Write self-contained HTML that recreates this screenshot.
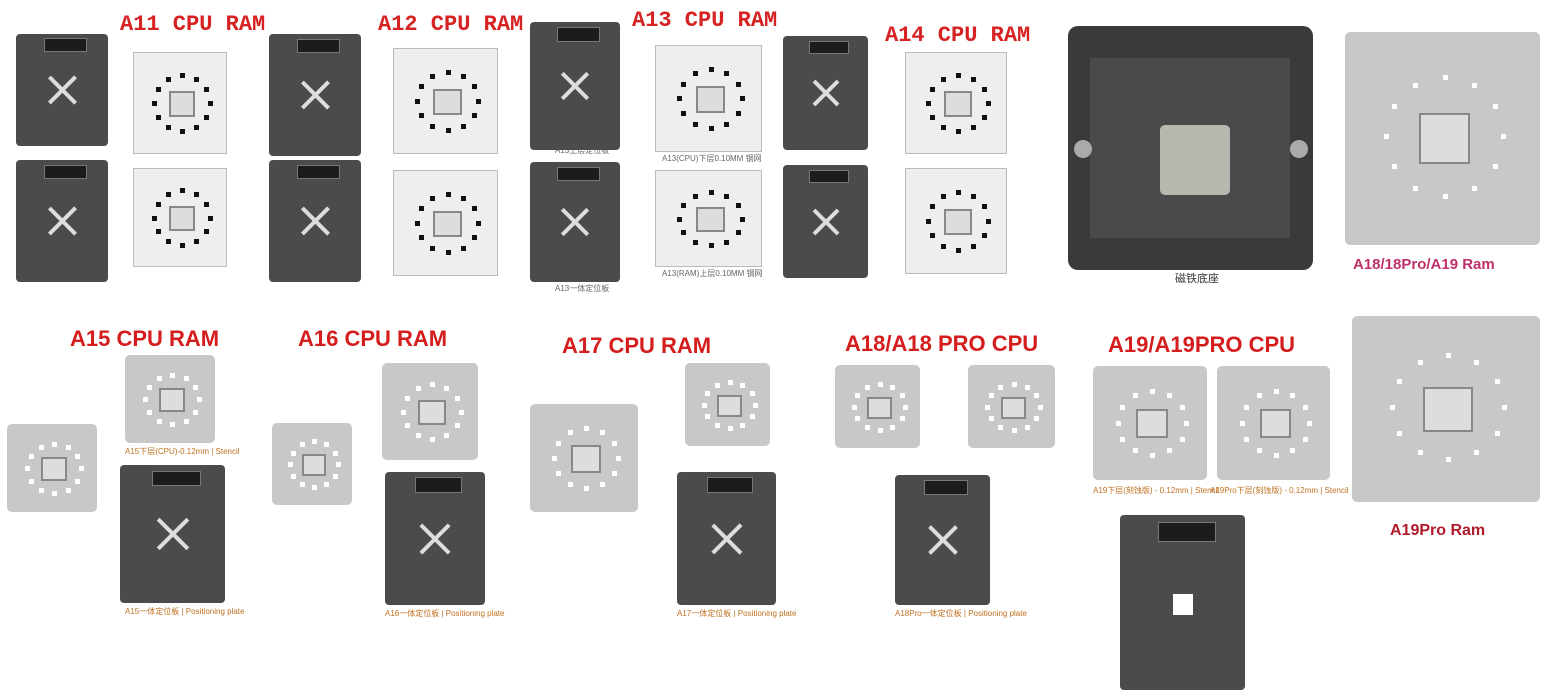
<!DOCTYPE html>
<html><head><meta charset="utf-8"><style>
body{margin:0;width:1564px;height:699px;background:#fff;position:relative;overflow:hidden;font-family:"Liberation Sans","Noto Sans CJK SC",sans-serif}
.a{position:absolute}
.p{position:absolute;background:#4b4b4b;border-radius:4px;overflow:hidden}
.p .x1,.p .x2{position:absolute;left:50%;top:50%;width:40%;height:4px;background:#ddd;margin-left:-20%;margin-top:-2px}
.p .x1{transform:rotate(45deg)}.p .x2{transform:rotate(-45deg)}
.p .lab{position:absolute;left:30%;top:4%;width:45%;height:10%;background:#1c1c1c;border:1px solid #777}
.s{position:absolute;background:#eeeeee;border:1px solid #bbb}
.s.g{background:#c8c8c8;border:none;border-radius:5px}
.s .c{position:absolute;left:38%;top:38%;width:24%;height:22%;border:2px solid #888;background:#ddd}
.t{position:absolute;color:#d51d1d;font-weight:bold;font-size:22px;white-space:nowrap}
.t.serif{font-family:"Liberation Mono",monospace;color:#d62222;font-size:22px}
.sm{position:absolute;font-size:8px;color:#666;white-space:nowrap}
</style></head><body>
<div class="t serif" style="left:120px;top:12px">A11 CPU RAM</div>
<div class="t serif" style="left:378px;top:12px">A12 CPU RAM</div>
<div class="t serif" style="left:632px;top:8px">A13 CPU RAM</div>
<div class="t serif" style="left:885px;top:23px">A14 CPU RAM</div>
<div class="t" style="left:70px;top:326px">A15 CPU RAM</div>
<div class="t" style="left:298px;top:326px">A16 CPU RAM</div>
<div class="t" style="left:562px;top:333px">A17 CPU RAM</div>
<div class="t" style="left:845px;top:331px">A18/A18 PRO CPU</div>
<div class="t" style="left:1108px;top:332px">A19/A19PRO CPU</div>
<div class="a" style="left:1068px;top:26px;width:245px;height:244px;background:#3a3a3a;border-radius:10px"></div>
<div class="a" style="left:1090px;top:58px;width:200px;height:180px;background:#4a4a4a"></div>
<div class="a" style="left:1160px;top:125px;width:70px;height:70px;background:#b8b8b0;border-radius:5px"></div>
<div class="a" style="left:1074px;top:140px;width:18px;height:18px;background:#aaa;border-radius:50%"></div>
<div class="a" style="left:1290px;top:140px;width:18px;height:18px;background:#aaa;border-radius:50%"></div>
<div class="a" style="left:1175px;top:270px;font-size:11px;color:#333">磁铁底座</div>
<div class="a" style="left:1353px;top:256px;font-size:15px;font-weight:bold;color:#c0306a">A18/18Pro/A19 Ram</div>
<div class="a" style="left:1390px;top:522px;font-size:16px;font-weight:bold;color:#b11a2a">A19Pro Ram</div>
<div class="sm" style="left:555px;top:145px">A13上层定位板</div>
<div class="sm" style="left:555px;top:283px">A13一体定位板</div>
<div class="sm" style="left:662px;top:153px">A13(CPU)下层0.10MM 钢网</div>
<div class="sm" style="left:662px;top:268px">A13(RAM)上层0.10MM 钢网</div>
<div class="sm" style="left:125px;top:446px;color:#c07020">A15下层(CPU)-0.12mm | Stencil</div>
<div class="sm" style="left:125px;top:606px;color:#c07020">A15一体定位板 | Positioning plate</div>
<div class="sm" style="left:385px;top:608px;color:#c07020">A16一体定位板 | Positioning plate</div>
<div class="sm" style="left:677px;top:608px;color:#c07020">A17一体定位板 | Positioning plate</div>
<div class="sm" style="left:895px;top:608px;color:#c07020">A18Pro一体定位板 | Positioning plate</div>
<div class="sm" style="left:1093px;top:485px;color:#c07020">A19下层(刻蚀版) - 0.12mm | Stencil</div>
<div class="sm" style="left:1210px;top:485px;color:#c07020">A19Pro下层(刻蚀版) - 0.12mm | Stencil</div>
<script>
function P(x,y,w,h,nox){var d=document.createElement('div');d.className='p';d.style.cssText=`left:${x}px;top:${y}px;width:${w}px;height:${h}px`;d.innerHTML='<div class="lab"></div>'+(nox?'<div style="position:absolute;left:42%;top:45%;width:16%;height:12%;background:#fff"></div>':'<div class="x1"></div><div class="x2"></div>');document.body.appendChild(d);}
function S(x,y,w,h,g){var d=document.createElement('div');d.className='s'+(g?' g':'');d.style.cssText=`left:${x}px;top:${y}px;width:${w}px;height:${h}px`;var c='<div class="c"></div>';for(var i=0;i<12;i++){var a=i/12*Math.PI*2;var px=50+30*Math.cos(a),py=48+28*Math.sin(a);c+=`<div style="position:absolute;left:${px}%;top:${py}%;width:5px;height:5px;background:${g?'#fff':'#111'}"></div>`;}d.innerHTML=c;document.body.appendChild(d);}
P(16,34,92,112);P(16,160,92,122);S(133,52,92,100);S(133,168,92,97);
P(269,34,92,122);P(269,160,92,122);S(393,48,103,104);S(393,170,103,104);
P(530,22,90,128);P(530,162,90,120);S(655,45,105,105);S(655,170,105,95);
P(783,36,85,114);P(783,165,85,113);S(905,52,100,100);S(905,168,100,104);
S(1345,32,195,213,1);S(1352,316,188,186,1);
S(7,424,90,88,1);S(125,355,90,88,1);P(120,465,105,138);
S(272,423,80,82,1);S(382,363,96,97,1);P(385,472,100,133);
S(530,404,108,108,1);S(685,363,85,83,1);P(677,472,99,133);
S(835,365,85,83,1);S(968,365,87,83,1);P(895,475,95,130);
S(1093,366,114,114,1);S(1217,366,113,114,1);P(1120,515,125,175,1);
</script>
</body></html>
